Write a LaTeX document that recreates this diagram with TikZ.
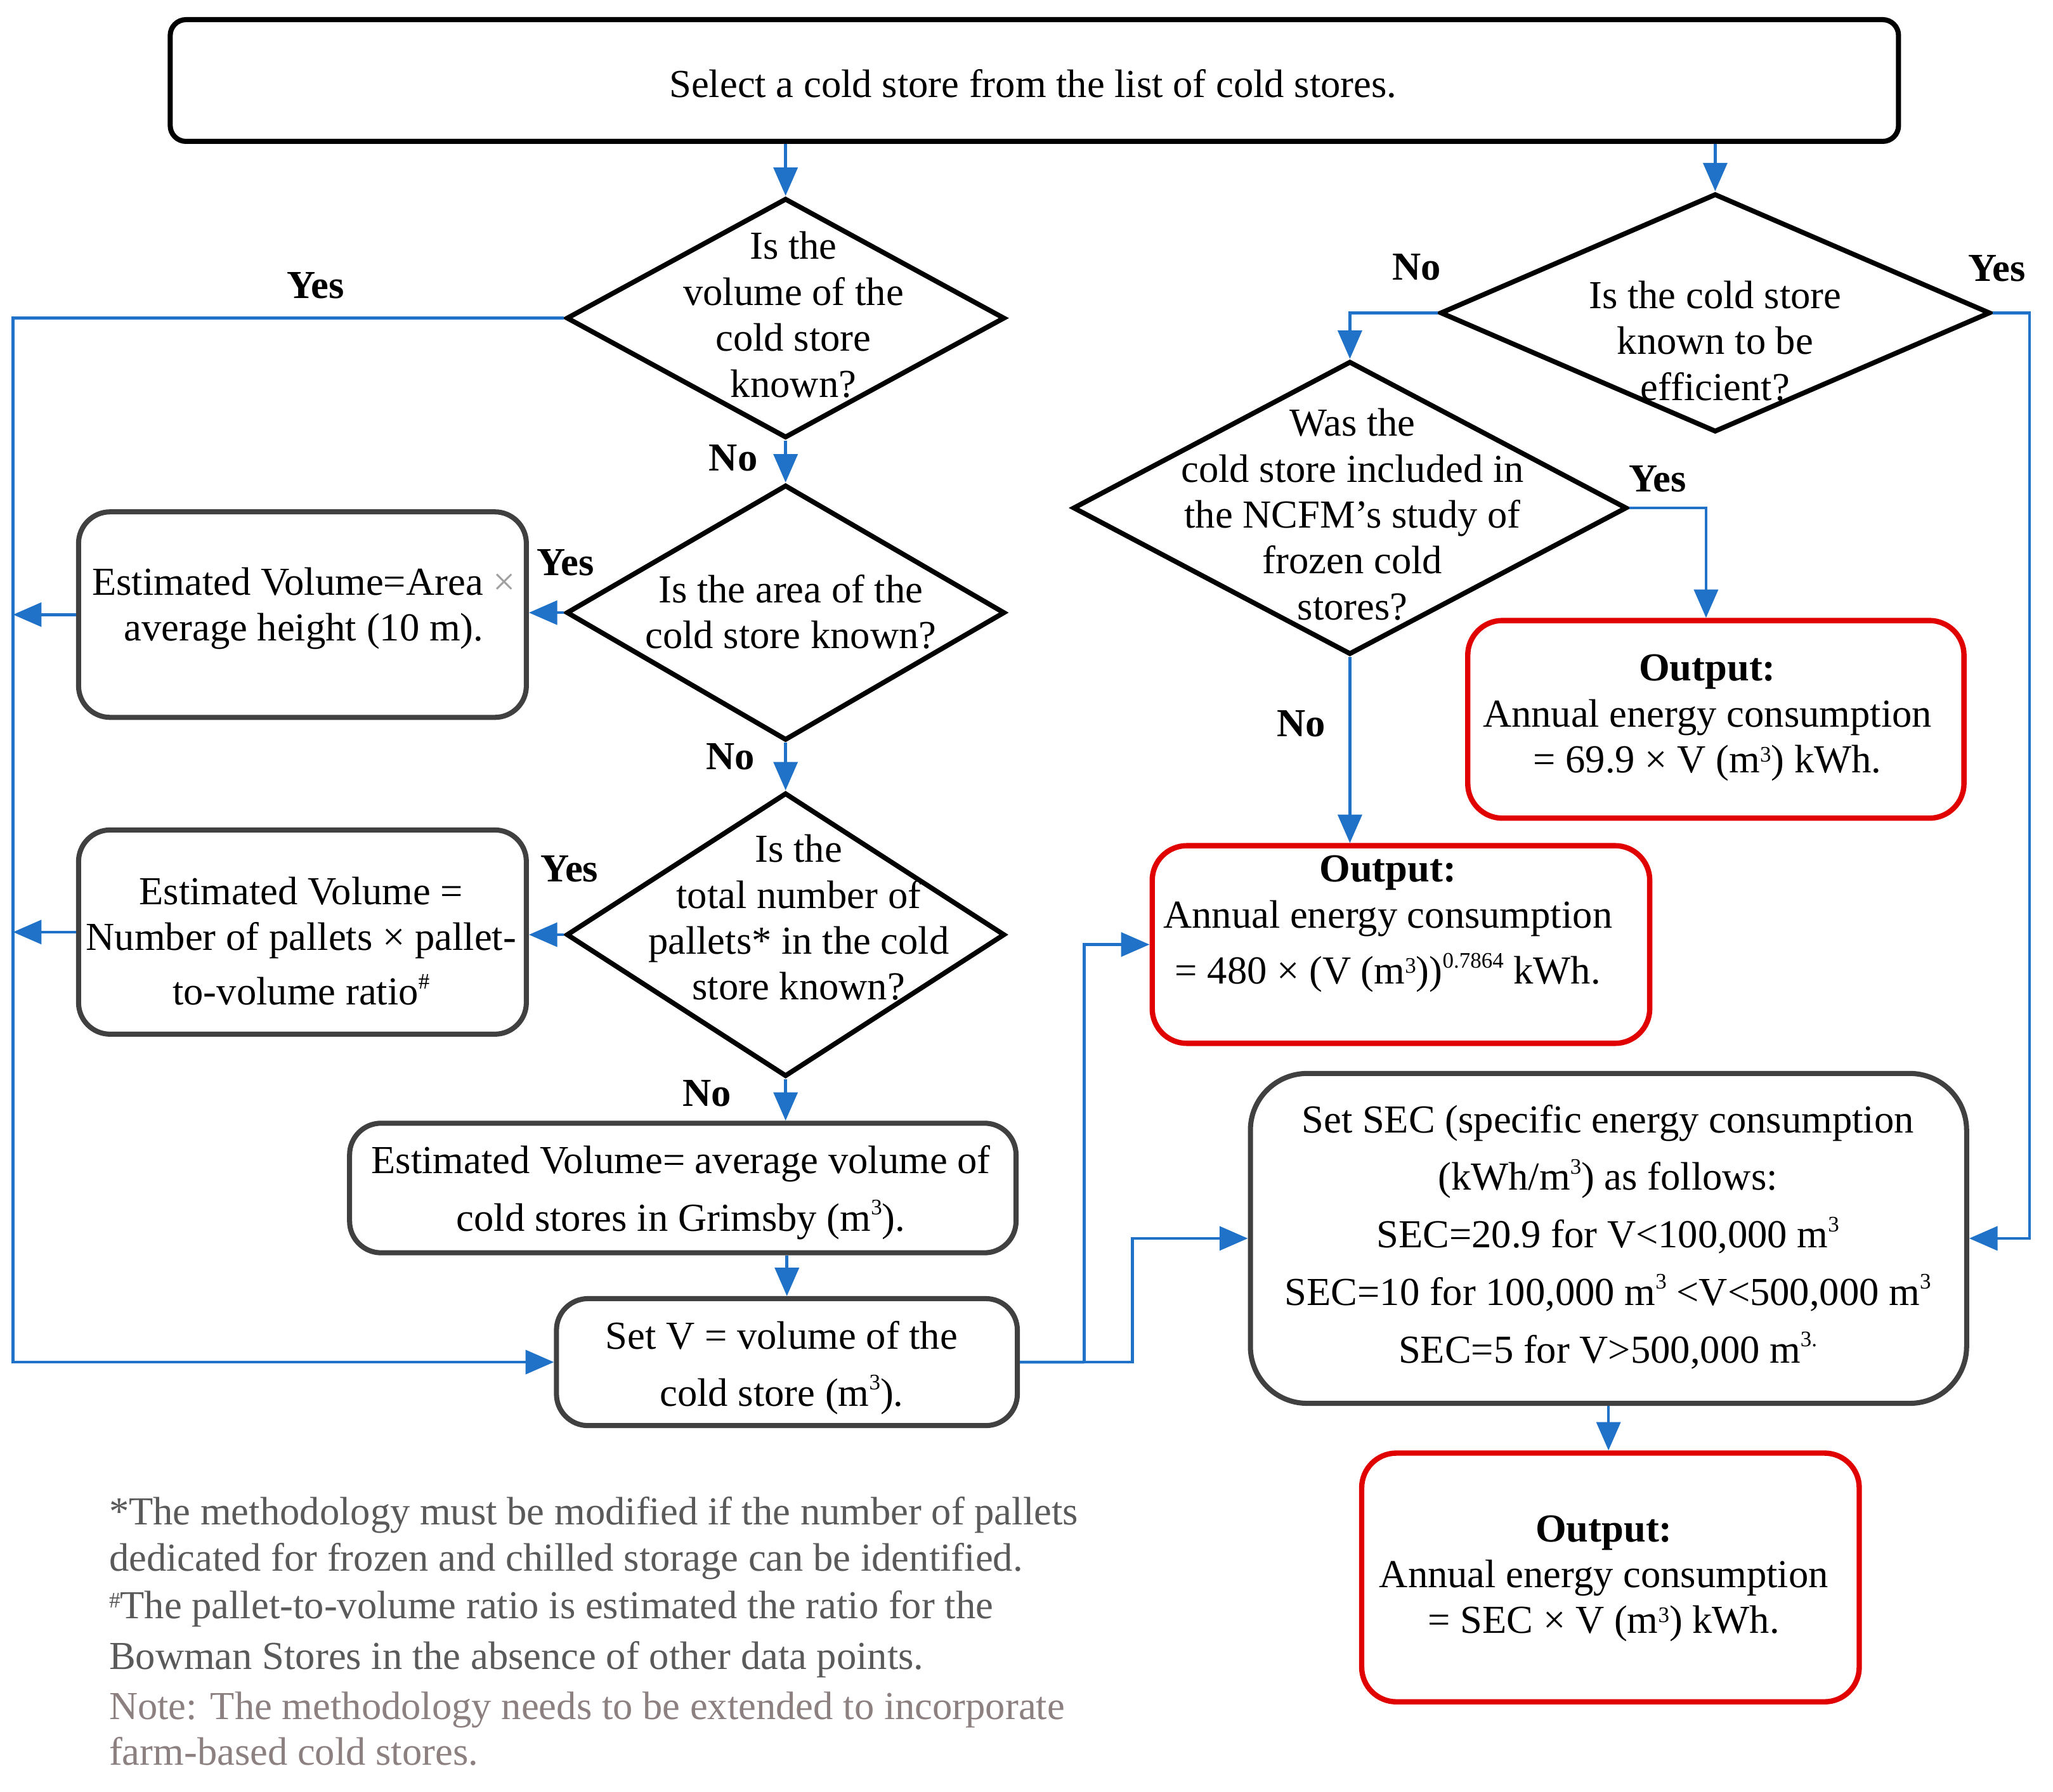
\documentclass[tikz,border=0pt]{standalone}
\usepackage{fontspec}
\setmainfont{Liberation Serif}
\usetikzlibrary{shapes.geometric,arrows.meta,fit,calc}
\definecolor{blueC}{RGB}{31,114,200}
\definecolor{redC}{RGB}{224,0,0}
\definecolor{grayB}{RGB}{64,64,64}
\definecolor{noteA}{RGB}{90,90,90}
\definecolor{noteB}{RGB}{140,128,128}
\definecolor{lgray}{RGB}{160,160,160}
\newcommand\hsup[1]{\raisebox{0.9ex}{\fontsize{10}{10}\selectfont #1}}
\newcommand\lsup[1]{\raisebox{0.6ex}{\fontsize{10}{10}\selectfont #1}}
\begin{document}
\begin{tikzpicture}[x=0.02075cm, y=-0.02075cm, font=\fontsize{17.9}{20.7}\selectfont,
 dia/.style={draw=black, line width=2.2pt, shape=diamond, inner sep=0pt},
 topbox/.style={draw=black, line width=2.3pt, rounded corners=0.25cm, inner sep=0pt},
 gbox/.style={draw=grayB, line width=2.3pt, rounded corners=0.5cm, inner sep=0pt},
 bigbox/.style={draw=grayB, line width=2.3pt, rounded corners=0.9cm, inner sep=0pt},
 obox/.style={draw=redC, line width=2.4pt, rounded corners=0.55cm, inner sep=0pt},
 txt/.style={align=center, inner sep=0pt, yshift=-0.06cm},
 lab/.style={font=\fontsize{17.9}{20.7}\selectfont\bfseries, inner sep=0pt},
 conn/.style={draw=blueC, line width=1.3pt},
 arr/.style={conn, -{Triangle[length=0.45cm,width=0.38cm]}},
]
\useasboundingbox (0,0) rectangle (1568,1368.5);

% boxes
\node[topbox, fit={(130,15) (1450,108)}] (top) {};
\node[txt] (topt) at (789,61) {Select a cold store from the list of cold stores.};

\node[dia, minimum width=6.95cm, minimum height=3.80cm] (d1) at (600,243) {};
\node[txt] (d1t) at (606,237.5) {Is the\\ volume of the\\ cold store\\ known?};

\node[dia, minimum width=6.95cm, minimum height=4.05cm] (d2) at (600,468) {};
\node[txt] (d2t) at (604,464.5) {Is the area of the\\ cold store known?};

\node[dia, minimum width=6.95cm, minimum height=4.50cm] (d3) at (600,714) {};
\node[txt] (d3t) at (610,698) {Is the\\ total number of\\ pallets* in the cold\\ store known?};

\node[dia, minimum width=8.72cm, minimum height=3.78cm] (d4) at (1310,239) {};
\node[txt] (d4t) at (1310,257.5) {Is the cold store\\ known to be\\ efficient?};

\node[dia, minimum width=8.78cm, minimum height=4.65cm] (d5) at (1031,388) {};
\node[txt] (d5t) at (1033,390) {Was the\\ cold store included in\\ the NCFM’s study of\\ frozen cold\\ stores?};

\node[gbox, fit={(60,391) (402,548)}] (b1) {};
\node[txt] (b1t) at (232,462) {Estimated Volume=Area {\color{lgray}×}\\ average height (10 m).};

\node[gbox, fit={(60,634) (402,790)}] (b2) {};
\node[txt] (b2t) at (230,716) {Estimated Volume =\\ Number of pallets × pallet-\\[4pt] to-volume ratio\hsup{\#}};

\node[gbox, fit={(267,858) (776,957)}] (b3) {};
\node[txt] (b3t) at (520,908) {Estimated Volume= average volume of\\[5.3pt] cold stores in Grimsby (m\hsup{3}).};

\node[gbox, fit={(425,992) (777,1089)}] (b4) {};
\node[txt] (b4t) at (597,1042) {Set V = volume of the\\[5pt] cold store (m\hsup{3}).};

\node[obox, fit={(1121,474) (1500,625)}] (o1) {};
\node[txt] (o1t) at (1304,545.5) {\textbf{Output:}\\ Annual energy consumption\\ = 69.9 × V (m\lsup{3}) kWh.};

\node[obox, fit={(880,646) (1260,797)}] (o2) {};
\node[txt] (o2t) at (1060,703) {\textbf{Output:}\\ Annual energy consumption\\[4.7pt] = 480 × (V (m\lsup{3}))\hsup{0.7864} kWh.};

\node[bigbox, fit={(955,820) (1502,1072)}] (b5) {};
\node[txt] (b5t) at (1228,942) {Set SEC (specific energy consumption\\[5.3pt] (kWh/m\hsup{3}) as follows:\\[5.3pt] SEC=20.9 for V<100,000 m\hsup{3}\\[5.3pt] SEC=10 for 100,000 m\hsup{3} <V<500,000 m\hsup{3}\\[5.3pt] SEC=5 for V>500,000 m\hsup{3.}};

\node[obox, fit={(1040,1110) (1420,1300)}] (o3) {};
\node[txt] (o3t) at (1225,1203) {\textbf{Output:}\\ Annual energy consumption\\ = SEC × V (m\lsup{3}) kWh.};

% footnotes
\node[anchor=west, align=left, inner sep=0pt, text=noteA] (fn1) at (83,1212.5) {*The methodology must be modified if the number of pallets\\ dedicated for frozen and chilled storage can be identified.\\[1pt] \lsup{\#}The pallet-to-volume ratio is estimated the ratio for the\\[2pt] Bowman Stores in the absence of other data points.};
\node[anchor=west, align=left, inner sep=0pt, text=noteB] (fn2) at (83,1320.5) {Note: The methodology needs to be extended to incorporate\\ farm-based cold stores.};

% labels
\node[lab] (l1) at (241,218) {Yes};
\node[lab] (l2) at (560,350) {No};
\node[lab] (l3) at (432,430) {Yes};
\node[lab] (l4) at (558,578) {No};
\node[lab] (l5) at (435,664) {Yes};
\node[lab] (l6) at (540,835) {No};
\node[lab] (l7) at (1082,204) {No};
\node[lab] (l8) at (1525,205) {Yes};
\node[lab] (l9) at (1266,366) {Yes};
\node[lab] (l10) at (994,553) {No};

% helper coordinates
\coordinate (lft) at (10,0);
\coordinate (rgt) at (1550,0);
\coordinate (j1) at (828,1040.5);
\coordinate (j2) at (865,1040.5);
\coordinate (o1in) at (1303,474);

% connectors
\draw[arr] (top.south -| d1.north) -- (d1.north);
\draw[arr] (top.south -| d4.north) -- (d4.north);
\draw[arr] (d1.west) -- (d1.west -| lft) |- (b4.west);
\draw[arr] (d1.south) -- (d2.north);
\draw[arr] (d2.west) -- (d2.west -| b1.east);
\draw[arr] (b1.west) -- (b1.west -| lft);
\draw[arr] (d2.south) -- (d3.north);
\draw[arr] (d3.west) -- (d3.west -| b2.east);
\draw[arr] (b2.west) -- (b2.west -| lft);
\draw[arr] (d3.south) -- (d3.south |- b3.north);
\draw[arr] (b3.south -| b4.north) -- (b4.north);
\draw[conn] (b4.east) -- (j1);
\draw[arr] (j1) |- (o2.west);
\draw[arr] (j1) -- (j2) |- (b5.west);
\draw[arr] (d4.west) -| (d5.north);
\draw[arr] (d4.east) -- (d4.east -| rgt) |- (b5.east);
\draw[arr] (d5.east) -| (o1in |- o1.north);
\draw[arr] (d5.south) -- (d5.south |- o2.north);
\draw[arr] (b5.south) -- (b5.south |- o3.north);
\end{tikzpicture}
\end{document}
